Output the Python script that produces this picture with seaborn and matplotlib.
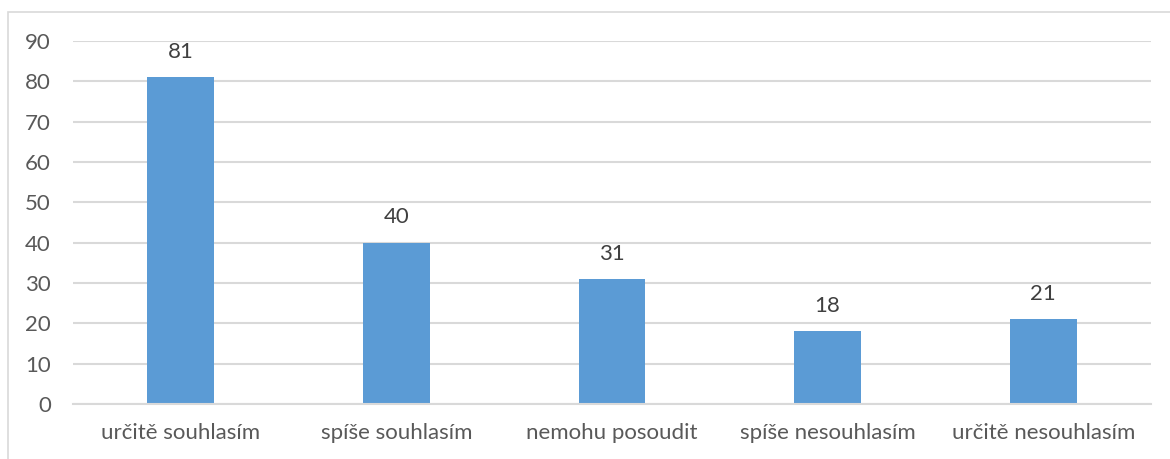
import matplotlib
matplotlib.use("Agg")
import matplotlib.pyplot as plt
import seaborn as sns
import pandas as pd
from matplotlib.patches import Rectangle

categories = ["určitě souhlasím", "spíše souhlasím", "nemohu posoudit", "spíše nesouhlasím", "určitě nesouhlasím"]
values = [81, 40, 31, 18, 21]
yticks = [0, 10, 20, 30, 40, 50, 60, 70, 80, 90]

sns.set_theme(style="white")
plt.rcParams['font.family'] = ['Lato', 'DejaVu Sans']

W, H = 1170, 459
fig = plt.figure(figsize=(W / 100, H / 100), dpi=100)
ax = fig.add_axes([73 / W, 1 - 404 / H, (1151 - 73) / W, (404 - 41) / H])

df = pd.DataFrame({"cat": categories, "val": values})
sns.barplot(data=df, x="cat", y="val", ax=ax, color="#5B9BD5", saturation=1, width=0.31, linewidth=0)

ax.set_ylim(0, 90)
ax.set_yticks(yticks)
ax.set_xlim(-0.5, len(categories) - 0.5)
ax.set_xlabel("")
ax.set_ylabel("")
for s in ["top", "right", "left"]:
    ax.spines[s].set_visible(False)
ax.spines["bottom"].set_color("#D9D9D9")
ax.spines["bottom"].set_linewidth(1.5)
ax.yaxis.grid(True, color="#D9D9D9", linewidth=1.5)
ax.set_axisbelow(True)
ax.tick_params(axis="both", length=0, labelsize=16, colors="#595959")
ax.tick_params(axis="y", pad=16)
ax.tick_params(axis="x", pad=14)

for cont in ax.containers:
    ax.bar_label(cont, labels=[str(v) for v in values], padding=11, fontsize=16, color="#404040")

fig.patches.append(Rectangle((8 / W, -0.1), 1.2, 1 - 12 / H + 0.1, transform=fig.transFigure,
                             fill=False, edgecolor="#D9D9D9", linewidth=1.2))

fig.savefig("out.png", dpi=100)
